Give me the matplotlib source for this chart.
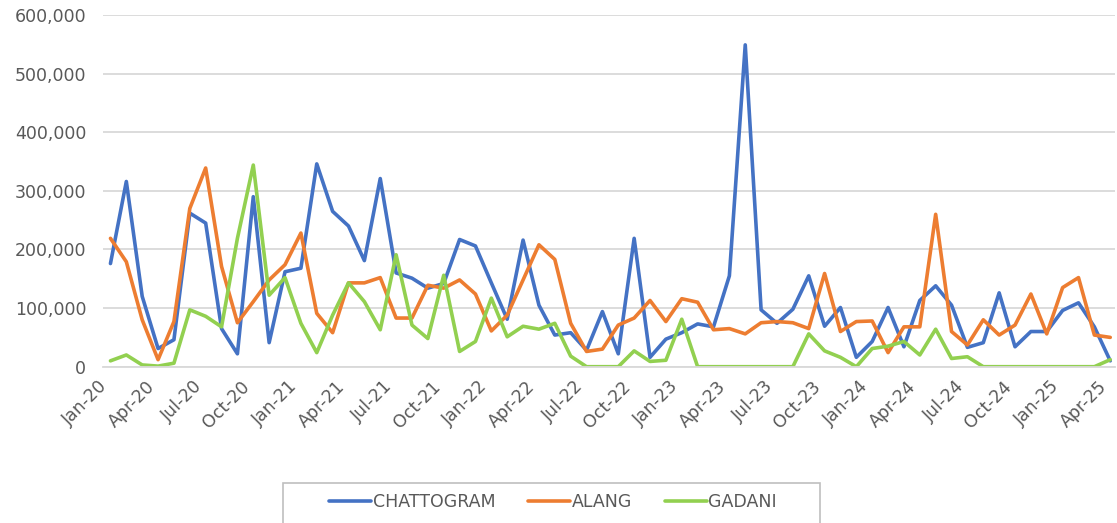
import matplotlib
matplotlib.use("Agg")
import matplotlib.pyplot as plt
import numpy as np
import pandas as pd
from matplotlib.ticker import FuncFormatter
from matplotlib.patches import Rectangle

# monthly categories Jan-20 .. Apr-25
months = pd.date_range("2020-01-01", periods=64, freq="MS").strftime("%b-%y").tolist()

# values in thousands
chattogram = [176, 316, 120, 31, 46, 262, 245, 65, 22, 290, 41, 162, 168, 346, 265, 240,
              181, 321, 160, 151, 134, 142, 217, 206, 143, 81, 216, 105, 54, 58, 28, 94,
              22, 219, 16, 47, 58, 73, 68, 155, 549, 97, 74, 98, 155, 69, 101, 16,
              43, 101, 34, 113, 138, 105, 33, 41, 126, 34, 60, 60, 96, 109, 68, 10]
alang = [219, 179, 80, 12, 77, 270, 339, 171, 75, 111, 148, 174, 228, 91, 58, 143,
         143, 152, 83, 83, 139, 134, 148, 124, 61, 88, 148, 208, 183, 74, 26, 30,
         71, 83, 113, 77, 116, 110, 63, 65, 56, 75, 77, 75, 65, 159, 60, 77,
         78, 24, 68, 68, 260, 60, 37, 80, 54, 71, 124, 56, 135, 152, 54, 50]
gadani = [10, 20, 3, 1, 6, 97, 86, 68, 219, 344, 122, 152, 74, 24, 88, 143,
          111, 63, 191, 71, 48, 156, 26, 43, 117, 51, 69, 64, 74, 18, 0, 0,
          0, 27, 9, 11, 81, 0, 0, 0, 0, 0, 0, 0, 56, 27, 16, 0,
          31, 35, 43, 20, 64, 14, 17, 0, 0, 0, 0, 0, 0, 0, 0, 12]

series_names = ["CHATTOGRAM", "ALANG", "GADANI"]
colors = ["#4472C4", "#ED7D31", "#92D050"]

text_color = "#595959"
grid_color = "#d9d9d9"

fig = plt.figure(figsize=(11.17, 5.23), dpi=100)
ax = fig.add_axes([103 / 1117, 1 - 366.7 / 523, 1012 / 1117, 351.7 / 523])

x = np.arange(len(months))
for vals, name, c in zip([chattogram, alang, gadani], series_names, colors):
    ax.plot(x, np.array(vals) * 1000, color=c, lw=2.6, label=name,
            solid_joinstyle="round", solid_capstyle="round")

ax.set_ylim(0, 600000)
ax.set_yticks(np.arange(0, 600001, 100000))
ax.yaxis.set_major_formatter(FuncFormatter(lambda v, p: f"{int(v):,}"))
ax.set_xlim(-0.47, 63.3)
ax.set_xticks(x[::3])
ax.set_xticklabels(months[::3], rotation=45, ha="right", va="bottom",
                   rotation_mode="anchor")

ax.grid(axis="y", color=grid_color, lw=1.3)
ax.set_axisbelow(True)
for s in ["top", "right", "left"]:
    ax.spines[s].set_visible(False)
ax.spines["bottom"].set_color(grid_color)
ax.spines["bottom"].set_linewidth(1.3)

ax.tick_params(axis="y", length=0, pad=12, labelsize=12.5, labelcolor=text_color)
ax.tick_params(axis="x", length=0, pad=17, labelsize=12.5, labelcolor=text_color)

# legend box runs off the bottom of the figure, like the original
fig.patches.append(Rectangle((283 / 1117, -0.05), 537 / 1117, 0.05 + 40 / 523,
                             transform=fig.transFigure, fill=False,
                             edgecolor="#bfbfbf", lw=1.2))
fig.legend(loc="center", bbox_to_anchor=(553 / 1117, 1 - 502 / 523), ncol=3,
           frameon=False, fontsize=12.5, borderaxespad=0, borderpad=0,
           handlelength=2.4, handletextpad=0.1, columnspacing=1.9,
           labelcolor=text_color)

fig.savefig("out.png", dpi=100)
